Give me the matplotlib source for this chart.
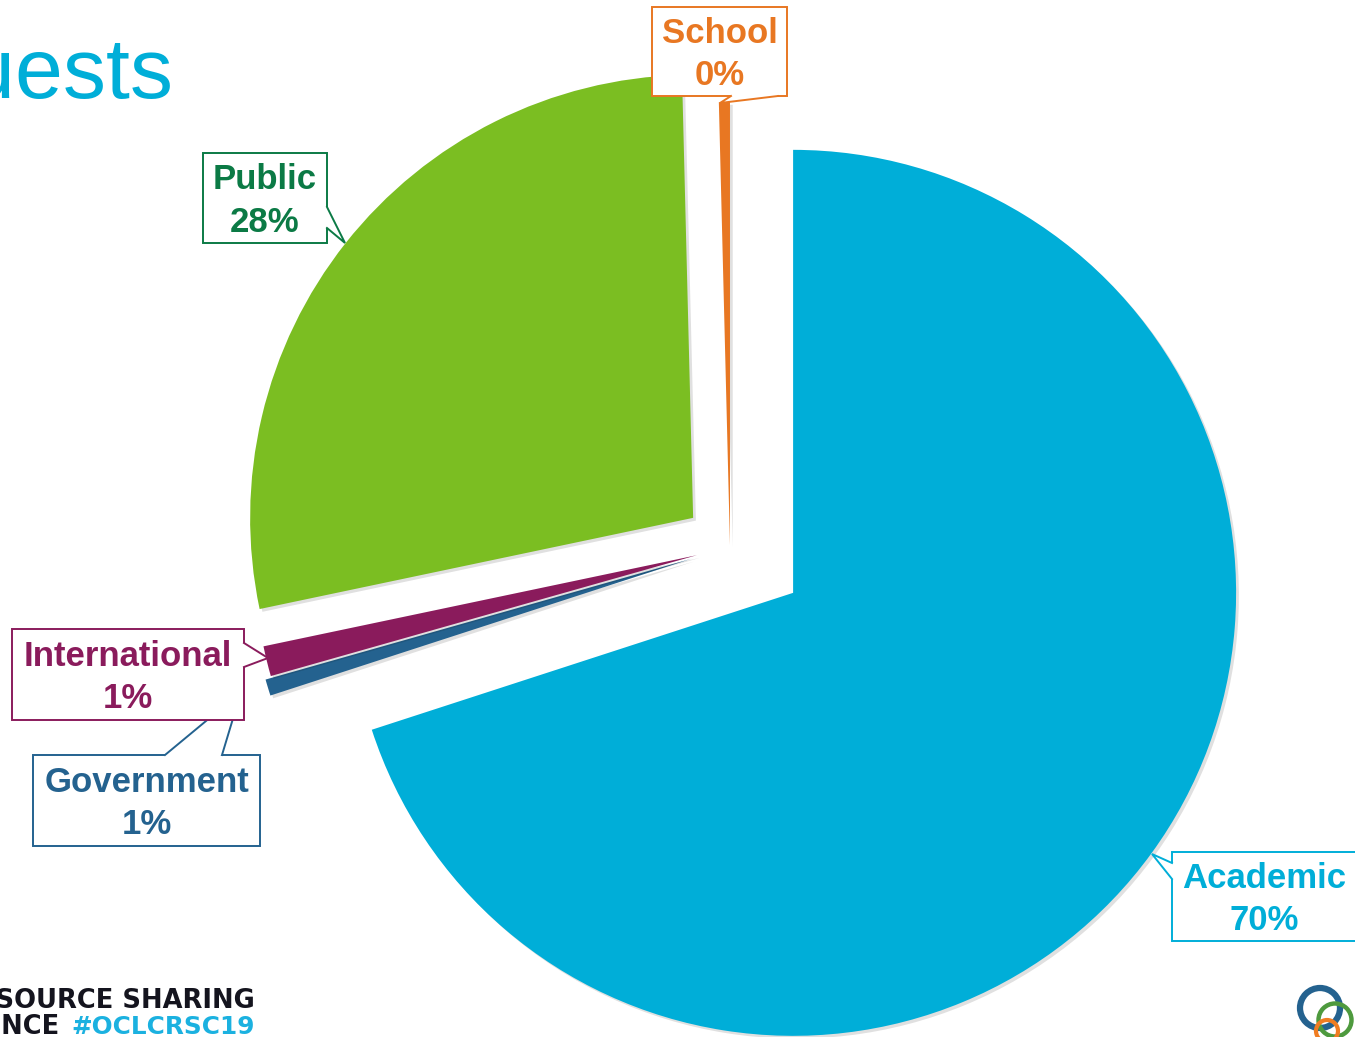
import numpy as np
import matplotlib
matplotlib.use('Agg')
import matplotlib.pyplot as plt
import matplotlib.patheffects as pe
from matplotlib.patches import Circle, Rectangle, Polygon

# share of requests by library type (percent)
categories = ['Academic', 'Government', 'International', 'Public', 'School']
shares = [70.0, 0.6, 1.1, 27.9, 0.4]

W, H = 1355, 1037
wedge_colors = ['#00AED8', '#24628F', '#8A1B5C', '#7BBE22', '#E87722']
label_colors = ['#00AED8', '#24628F', '#8A1B5C', '#0B7A45', '#E87722']
# per-slice explosion, in pixels (radius is 443 px)
explode = [78, 40, 34, 47, 2]

# callout boxes (x0, y0, x1, y1) and pointers (base1, tip, base2),
# image pixels with y measured downwards
label_box = [(1172, 852, 1356, 941), (33, 755, 260, 846),
             (12, 629, 244, 720), (203, 153, 327, 243), (652, 7, 787, 96)]
label_ptr = [((1172, 863), (1152, 854), (1172, 879)),
             ((165, 755), (241, 692), (222, 755)),
             ((244, 643), (268, 658), (244, 667)),
             ((327, 207), (345, 243), (327, 228)),
             ((731, 96), (720, 103), (778, 96))]


def flip(p):
    """ image pixel (y down) -> data coords (y up) """
    return p[0], H - p[1]


def draw_callout(ax, box, ptr, text, col, z):
    """ speech-bubble label: white box with a pointer to the slice """
    x0, y0, x1, y1 = box
    ax.add_patch(Rectangle((x0, H - y1), x1 - x0, y1 - y0, fc='white',
                           ec=col, lw=1.4, zorder=z))
    b1, tip, b2 = ptr
    c = np.array([(x0 + x1) / 2., (y0 + y1) / 2.])
    inner = []
    for b in (b1, b2):
        d = c - np.array(b)
        inner.append(np.array(b) + 3 * d / np.abs(d).max())
    pts = [inner[0], b1, tip, b2, inner[1]]
    ax.add_patch(Polygon([flip(p) for p in pts], closed=True, fc='white',
                         ec='none', zorder=z + 0.1))
    xs, ys = zip(*[flip(p) for p in (b1, tip, b2)])
    ax.plot(xs, ys, color=col, lw=1.4, zorder=z + 0.2,
            solid_joinstyle='miter')
    ax.text(c[0], H - c[1] - 3, text, ha='center', va='center', fontsize=25,
            fontweight='bold', color=col, family='Liberation Sans',
            linespacing=1.36, zorder=z + 0.3)


fig = plt.figure(figsize=(W / 100, H / 100), dpi=100)
ax = fig.add_axes([0, 0, 1, 1])

wedges, _ = ax.pie(shares, colors=wedge_colors, explode=explode,
                   startangle=90, counterclock=False, radius=443,
                   center=(730, H - 547), frame=True,
                   wedgeprops=dict(linewidth=0))
for w in wedges:
    w.set_path_effects([pe.SimplePatchShadow(offset=(2, -2),
                                             shadow_rgbFace='k', alpha=0.12),
                        pe.Normal()])

ax.set_xlim(0, W)
ax.set_ylim(0, H)
ax.set_aspect('equal')
ax.axis('off')

for i, (name, v, col) in enumerate(zip(categories, shares, label_colors)):
    draw_callout(ax, label_box[i], label_ptr[i],
                 '{}\n{:.0f}%'.format(name, v), col, 3 + 2 * i)

# slide title, cut off at the left edge
ax.text(174, H - 98, 'Requests', ha='right', va='baseline', fontsize=62,
        color='#00AED8', family='Liberation Sans')

# footer
ax.text(255, H - 1008, 'RESOURCE SHARING', ha='right', va='baseline',
        fontsize=18.5, fontweight='bold', color='#14141E',
        family='DejaVu Sans')
ax.text(60, H - 1034, 'CONFERENCE', ha='right', va='baseline',
        fontsize=18.5, fontweight='bold', color='#14141E',
        family='DejaVu Sans')
ax.text(255, H - 1034, '#OCLCRSC19', ha='right', va='baseline',
        fontsize=17.8, fontweight='bold', color='#1BB1E0',
        family='DejaVu Sans')

# logo rings
for c, r, lw, col in [((1320, 1008), 20, 4.5, '#24628F'),
                      ((1335, 1020), 16.5, 3.2, '#4E9A3E'),
                      ((1327, 1031), 11, 3.0, '#F07D22')]:
    ax.add_patch(Circle(flip(c), r, fill=False, lw=lw, ec=col))

fig.savefig('out.png', dpi=100)
